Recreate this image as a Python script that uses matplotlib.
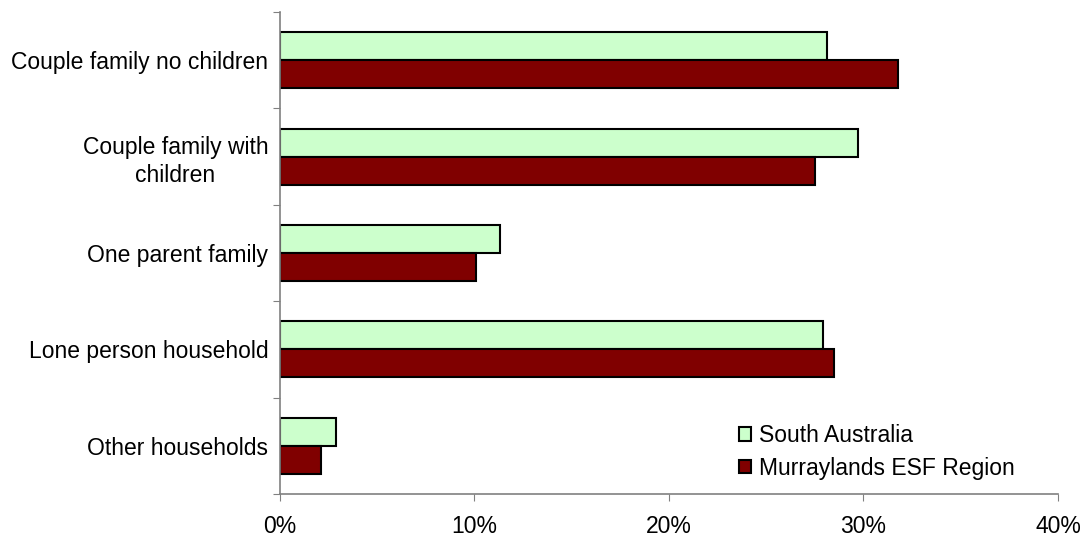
import numpy as np
import matplotlib.pyplot as plt
from matplotlib.ticker import PercentFormatter

plt.rcParams['font.family'] = ['Liberation Sans', 'DejaVu Sans']

categories = ['Couple family no children', 'Couple family with\nchildren',
              'One parent family', 'Lone person household', 'Other households']
south_australia = [28.1, 29.7, 11.3, 27.9, 2.9]
murraylands = [31.8, 27.5, 10.1, 28.5, 2.1]
series_names = ['South Australia', 'Murraylands ESF Region']

fs = 16.5

fig = plt.figure(figsize=(10.86, 5.38), dpi=100)
ax = fig.add_axes([0.2578, 0.0818, 0.7164, 0.8959])

y = np.arange(len(categories))
h = 0.29
ax.barh(y - h / 2, south_australia, height=h, color='#CCFFCC',
        edgecolor='black', linewidth=1.5, label=series_names[0])
ax.barh(y + h / 2, murraylands, height=h, color='#800000',
        edgecolor='black', linewidth=1.5, label=series_names[1])

ax.set_xlim(0, 40)
ax.set_ylim(len(categories) - 0.5, -0.5)
ax.set_xticks([0, 10, 20, 30, 40])
ax.xaxis.set_major_formatter(PercentFormatter(decimals=0))

# boundary ticks between groups, labels sit on minor ticks at the centres
ax.set_yticks(np.arange(len(categories) + 1) - 0.5)
ax.set_yticklabels([])
ax.set_yticks(y, minor=True)
ax.set_yticklabels(categories, minor=True, ha='right', multialignment='center',
                   linespacing=1.25)
ax.tick_params(axis='y', which='minor', length=0, pad=8.5, labelsize=fs)
ax.tick_params(axis='y', which='major', length=5, color='#808080', direction='out')
ax.tick_params(axis='x', length=5, color='#808080', direction='out', pad=10, labelsize=fs)

for s in ['top', 'right']:
    ax.spines[s].set_visible(False)
for s in ['left', 'bottom']:
    ax.spines[s].set_color('#808080')
    ax.spines[s].set_linewidth(1.2)

ax.legend(loc='lower right', bbox_to_anchor=(0.945, 0.03), frameon=False,
          fontsize=fs, handlelength=0.55, handleheight=0.55, borderpad=0,
          borderaxespad=0, handletextpad=0.35, labelspacing=0.4)

fig.savefig('out.png', dpi=100)
